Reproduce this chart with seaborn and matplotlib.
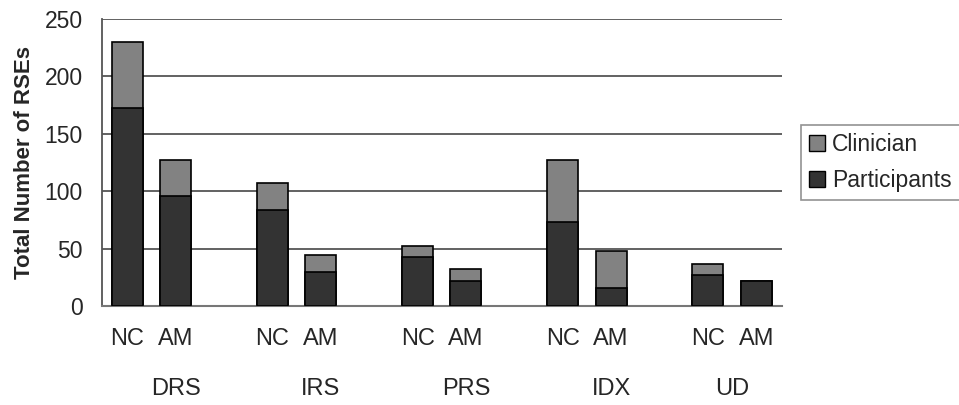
import pandas as pd
import numpy as np
import matplotlib
matplotlib.use('Agg')
import matplotlib.pyplot as plt
import seaborn as sns
from matplotlib.patches import Patch

groups = ['DRS', 'IRS', 'PRS', 'IDX', 'UD']
methods = ['NC', 'AM']
participants = [172, 96, 84, 30, 43, 22, 73, 16, 27, 22]
clinician = [58, 31, 23, 14, 9, 10, 54, 32, 10, 0]
group_label_pos = [1, 4, 7, 10, 12.5]

sns.set_style('white')
plt.rcParams['font.family'] = ['Liberation Sans', 'DejaVu Sans']
narrow = ['Liberation Sans Narrow', 'Liberation Sans', 'DejaVu Sans']

rows = []
for i, g in enumerate(groups):
    for j, m in enumerate(methods):
        k = i * 2 + j
        rows.append({'slot': g + ' ' + m, 'method': m,
                     'Participants': participants[k],
                     'Total': participants[k] + clinician[k]})
df = pd.DataFrame(rows)

# three slots per group, the third one left empty as a gap
order = []
for i, g in enumerate(groups):
    order += [g + ' NC', g + ' AM', '_gap%d' % i]
order = order[:-1]

fig = plt.figure(figsize=(9.59, 4.05), dpi=100)
ax = fig.add_axes([0.1064, 0.2444, 0.709, 0.709])

for y in [50, 100, 150, 200, 250]:
    ax.axhline(y, color='#555555', lw=1.3, zorder=0)

sns.barplot(data=df, x='slot', y='Total', order=order, color='#828282',
            width=0.64, edgecolor='black', linewidth=1.2, saturation=1, ax=ax, zorder=2)
sns.barplot(data=df, x='slot', y='Participants', order=order, color='#333333',
            width=0.64, edgecolor='black', linewidth=1.2, saturation=1, ax=ax, zorder=3)

pos = [order.index(s) for s in df['slot']]
ax.set_xticks(pos)
ax.set_xticklabels(df['method'], fontsize=17, family=narrow)
ax.tick_params(axis='x', length=0, pad=16)
for p, g in zip(group_label_pos, groups):
    ax.text(p, -0.29, g, transform=ax.get_xaxis_transform(), ha='center',
            va='center', fontsize=17, family=narrow)

ax.set_xlim(-0.52, 13.53)
ax.set_ylim(0, 250)
ax.set_yticks(np.arange(0, 251, 50))
ax.tick_params(axis='y', labelsize=16.5, length=7, width=1.2, color='#555555', pad=7)
ax.set_xlabel('')
ax.set_ylabel('Total Number of RSEs', fontsize=16, fontweight='bold', labelpad=7)

for s in ['top', 'right']:
    ax.spines[s].set_visible(False)
ax.spines['left'].set_color('#555555')
ax.spines['left'].set_linewidth(1.3)
ax.spines['bottom'].set_color('#777777')
ax.spines['bottom'].set_linewidth(1.5)

handles = [Patch(facecolor='#828282', edgecolor='black', label='Clinician'),
           Patch(facecolor='#333333', edgecolor='black', label='Participants')]
leg = ax.legend(handles=handles, loc='center left', bbox_to_anchor=(1.028, 0.50),
                fontsize=16.5, frameon=True, fancybox=False, handlelength=0.7,
                handleheight=0.7, handletextpad=0.3, borderpad=0.35, labelspacing=0.55,
                borderaxespad=0)
leg.get_frame().set_edgecolor('#777777')
leg.get_frame().set_linewidth(1.2)

fig.savefig('out.png', dpi=100)
